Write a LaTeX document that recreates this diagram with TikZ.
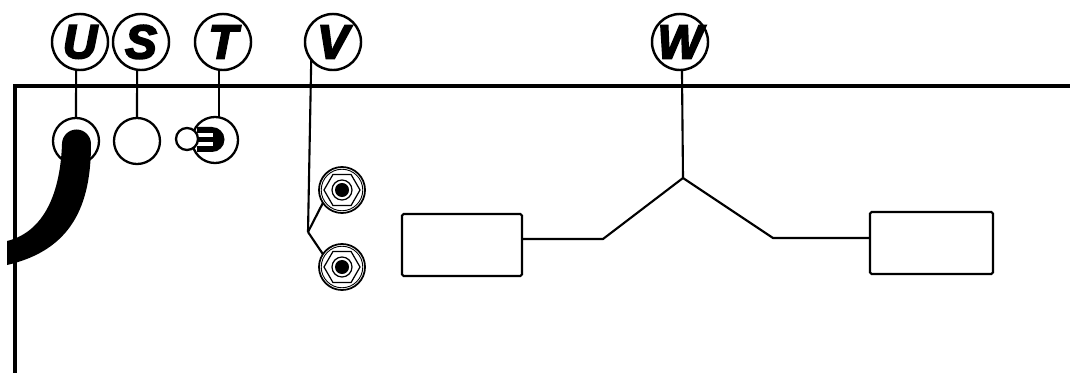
\documentclass[tikz,border=0pt]{standalone}
\usepackage{fontspec}
\usetikzlibrary{shapes.geometric}
\newfontfamily\keyfont[UprightFont=* Bold Italic,FakeBold=4]{Liberation Sans}
\begin{document}
\begin{tikzpicture}[
        x = 0.01cm,
        y = -0.01cm,
        every node/.style = {inner sep=0pt, outer sep=0pt},
        line/.style       = {line width=0.6pt, black},
        frame/.style      = {line width=0.95pt, black},
        key/.style        = {circle, draw, line width=0.7pt, minimum size=0.56cm, font=\keyfont\fontsize{13.5}{14}\selectfont},
        socket/.style     = {circle, draw, line width=0.65pt, minimum size=0.46cm},
        box/.style        = {draw, line width=0.6pt, rounded corners=0.5pt},
      ]
        \useasboundingbox (0,0) rectangle (1070,373);
        % panel edge
        \draw[frame] (15,373) -- (15,86) -- (1070,86);

        \node[key] (U) at (80,42)  {U};
        \node[key] (S) at (141,42) {S};
        \node[key] (T) at (223,42) {T};
        \node[key] (V) at (333,42) {V};
        \node[key] (W) at (680,42) {W};

        \node[socket] (input)  at (76,141)  {};
        \node[socket] (output) at (137,141) {};
        \node[socket] (switch) at (215,140) {};

        % lever of the switch
        \fill (197,127) -- (212,127) arc (-90:90:12.5) -- (197,152) -- cycle;
        \fill[white] (196,133) rectangle (213,137);
        \fill[white] (196,142) rectangle (213,146);
        \node[circle, draw, fill=white, line width=0.65pt, minimum size=0.22cm] (lever) at (187,139) {};

        % cable
        \fill (7,241) .. controls (40,233) and (60,200) .. (62,144)
              arc (180:360:14.5)
              .. controls (91,205) and (72,250) .. (7,265) -- cycle;

        % the two jacks
        \foreach \name/\ypos in {jackA/190, jackB/267} {
            \node[socket, line width=0.5pt] (\name) at (342,\ypos) {};
            \node[circle, draw, line width=0.25pt, minimum size=0.415cm] at (342,\ypos) {};
            \node[regular polygon, regular polygon sides=6, draw, line width=0.35pt, minimum size=0.36cm] at (342,\ypos) {};
            \node[circle, draw, line width=0.35pt, minimum size=0.2cm] at (342,\ypos) {};
            \node[circle, fill, minimum size=0.14cm] at (342,\ypos) {};
        }

        \node[box, minimum width=1.2cm, minimum height=0.62cm] (boxL) at (462,245) {};
        \node[box, minimum width=1.23cm, minimum height=0.62cm] (boxR) at (931.5,243) {};

        \coordinate (fork) at (308,232);
        \coordinate (top) at (683,178);
        \coordinate (kneeL) at (603,239);
        \coordinate (kneeR) at (773,238);

        \draw[line] (U.262) -- (input.north);
        \draw[line] (S.262) -- (output.north);
        \draw[line] (T.262) -- (T.262 |- switch.north);
        \draw[line] (V.219) -- (fork);
        \draw[line] (fork) -- (jackA.214);
        \draw[line] (fork) -- (jackB.146);
        \draw[line] (W.274) -- (top);
        \draw[line] (top) -- (kneeL) -- (boxL.east |- kneeL);
        \draw[line] (top) -- (kneeR) -- (boxR.west |- kneeR);
    \end{tikzpicture}
\end{document}
